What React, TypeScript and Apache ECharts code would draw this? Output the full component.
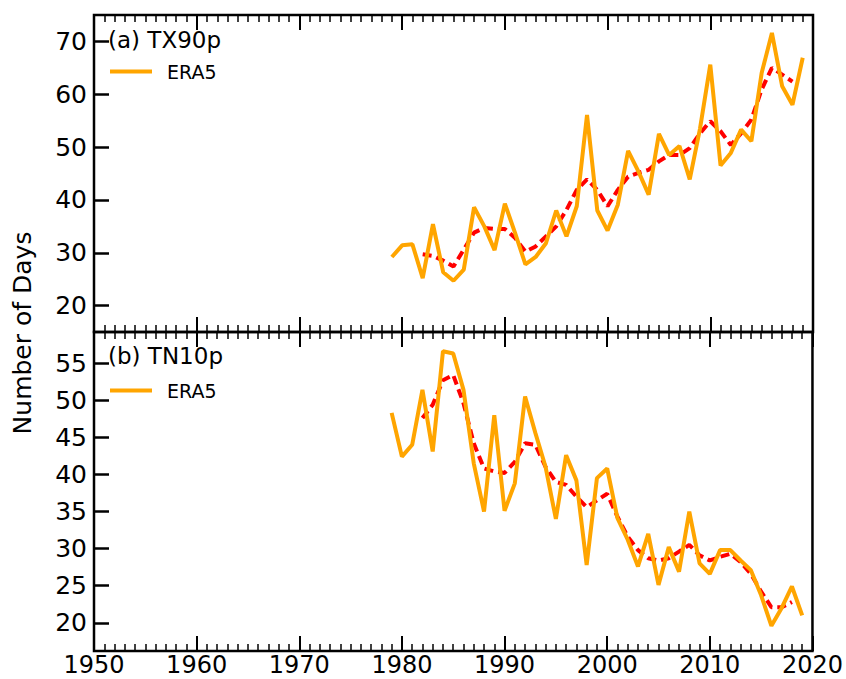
import React, { useEffect, useRef } from "react";
import * as echarts from "echarts";

const years = Array.from({ length: 41 }, (_, i) => 1979 + i);
const meanYears = Array.from({ length: 37 }, (_, i) => 1982 + i);

const tx90p = [
  29.2, 31.4, 31.6, 25.2, 35.4, 26.3, 24.7, 26.8, 38.6, 35.0,
  30.5, 39.3, 33.7, 27.8, 29.2, 31.8, 38.0, 33.1, 38.8, 56.1,
  38.0, 34.2, 39.1, 49.3, 45.4, 41.0, 52.5, 48.5, 50.2, 43.9,
  53.5, 65.6, 46.5, 48.9, 53.3, 51.1, 64.0, 71.6, 61.5, 58.0,
  66.9,
];
const tx90pMean = [
  29.7, 29.4, 28.5, 27.4, 30.6, 33.8, 34.7, 34.5, 34.5, 32.8,
  30.2, 31.2, 33.1, 35.0, 38.1, 41.9, 43.9, 41.9, 38.8, 41.9,
  44.4, 45.1, 45.7, 47.3, 48.5, 48.5, 49.8, 52.6, 54.9, 53.0,
  50.4, 52.6, 55.2, 60.9, 65.0, 63.7, 62.4,
];
const tn10p = [
  48.3, 42.4, 44.0, 51.4, 43.1, 56.6, 56.3, 51.4, 41.5, 35.0,
  48.0, 35.1, 38.8, 50.5, 45.6, 41.0, 34.0, 42.6, 39.2, 27.8,
  39.5, 40.8, 34.1, 31.2, 27.6, 32.0, 25.1, 30.2, 26.9, 35.0,
  28.0, 26.6, 29.8, 29.8, 28.4, 27.1, 23.7, 19.6, 22.0, 24.9,
  21.0,
];
const tn10pMean = [
  47.6, 49.4, 52.7, 53.4, 49.6, 44.2, 40.8, 40.4, 40.2, 41.7,
  44.2, 44.0, 41.0, 39.0, 38.6, 37.0, 35.6, 36.5, 37.4, 34.3,
  31.6, 29.8, 28.7, 28.4, 28.7, 29.6, 30.5, 29.1, 28.4, 28.9,
  29.3, 28.2, 26.6, 24.2, 22.1, 22.1, 22.8,
];
const xTicks = [1950, 1960, 1970, 1980, 1990, 2000, 2010, 2020];
const topYTicks = [20, 30, 40, 50, 60, 70];
const bottomYTicks = [20, 25, 30, 35, 40, 45, 50, 55];

const FONT = "DejaVu Sans";
const ORANGE = "#ffa500";
const RED = "#ff0000";
const TICK_FONT = 25;

function pairs(xs: number[], ys: number[]) {
  return xs.map((x, i) => [x, ys[i]]);
}

function xAxisDef(gridIndex: number, position: "top" | "bottom", showLabel: boolean) {
  return {
    type: "value",
    gridIndex,
    position,
    min: 1950,
    max: 2020,
    interval: 10,
    axisLine: { show: false },
    splitLine: { show: false },
    axisTick: { show: true, inside: true, length: 15, lineStyle: { color: "#000", width: 2 } },
    minorTick: { show: true, splitNumber: 10, length: 7, lineStyle: { color: "#000", width: 1.5 } },
    axisLabel: {
      show: showLabel,
      color: "#000",
      fontFamily: FONT,
      fontSize: 24,
      lineHeight: 24,
      margin: 2,
      customValues: xTicks,
      formatter: (v: number) => String(v),
    },
  };
}

function yAxisDef(gridIndex: number, min: number, max: number, ticks: number[]) {
  return {
    type: "value",
    gridIndex,
    min,
    max,
    axisLine: { show: false },
    splitLine: { show: false },
    axisTick: { show: true, inside: true, length: 15, customValues: ticks, lineStyle: { color: "#000", width: 2.5 } },
    axisLabel: {
      show: true,
      color: "#000",
      fontFamily: FONT,
      fontSize: TICK_FONT,
      margin: 7,
      customValues: ticks,
    },
  };
}

export default function App() {
  const ref = useRef<HTMLDivElement>(null);
  useEffect(() => {
    if (!ref.current) return;
    const chart = echarts.init(ref.current, null, { renderer: "svg" });
    chart.setOption({
      animation: false,
      backgroundColor: "#fff",
      grid: [
        { left: 94, right: 33, top: 15, height: 317, show: true, borderColor: "#000", borderWidth: 2.5, backgroundColor: "transparent" },
        { left: 94, right: 33, top: 332, height: 319, show: true, borderColor: "#000", borderWidth: 2.5, backgroundColor: "transparent" },
      ],
      title: [
        { text: "(a) TX90p", left: 108, top: 28, padding: 0, textStyle: { fontFamily: FONT, fontSize: 23, fontWeight: "normal", color: "#000" } },
        { text: "(b) TN10p", left: 108, top: 344, padding: 0, textStyle: { fontFamily: FONT, fontSize: 23, fontWeight: "normal", color: "#000" } },
      ],
      legend: [
        {
          data: [{ name: "ERA5" }],
          left: 110,
          top: 62,
          padding: 0,
          icon: "rect",
          itemWidth: 42,
          itemHeight: 4,
          textStyle: { fontFamily: FONT, fontSize: 19, color: "#000", padding: [0, 0, 0, 10] },
          selectedMode: false,
        },
        {
          data: [{ name: "ERA5" }],
          left: 110,
          top: 381,
          padding: 0,
          icon: "rect",
          itemWidth: 42,
          itemHeight: 4,
          textStyle: { fontFamily: FONT, fontSize: 19, color: "#000", padding: [0, 0, 0, 10] },
          selectedMode: false,
        },
      ],
      xAxis: [
        xAxisDef(0, "bottom", false),
        xAxisDef(0, "top", false),
        xAxisDef(1, "bottom", true),
        xAxisDef(1, "top", false),
      ],
      yAxis: [
        yAxisDef(0, 15, 75, topYTicks),
        yAxisDef(1, 16.2, 59.2, bottomYTicks),
      ],
      graphic: [
        {
          type: "text",
          x: 22,
          y: 333,
          rotation: Math.PI / 2,
          style: {
            text: "Number of Days",
            align: "center",
            verticalAlign: "middle",
            fontFamily: FONT,
            fontSize: 25,
            fill: "#000",
          },
        },
      ],
      series: [
        {
          name: "Running mean (a)",
          type: "line",
          xAxisIndex: 0,
          yAxisIndex: 0,
          data: pairs(meanYears, tx90pMean),
          showSymbol: false,
          lineStyle: { color: RED, width: 4, type: [9, 5] },
          itemStyle: { color: RED },
        },
        {
          name: "ERA5",
          type: "line",
          xAxisIndex: 0,
          yAxisIndex: 0,
          data: pairs(years, tx90p),
          showSymbol: false,
          lineStyle: { color: ORANGE, width: 4 },
          itemStyle: { color: ORANGE },
        },
        {
          name: "Running mean (b)",
          type: "line",
          xAxisIndex: 2,
          yAxisIndex: 1,
          data: pairs(meanYears, tn10pMean),
          showSymbol: false,
          lineStyle: { color: RED, width: 4, type: [9, 5] },
          itemStyle: { color: RED },
        },
        {
          name: "ERA5",
          type: "line",
          xAxisIndex: 2,
          yAxisIndex: 1,
          data: pairs(years, tn10p),
          showSymbol: false,
          lineStyle: { color: ORANGE, width: 4 },
          itemStyle: { color: ORANGE },
        },
      ],
    });
    return () => chart.dispose();
  }, []);
  return <div ref={ref} style={{ width: 846, height: 679, position: "absolute", left: 0, top: 0 }} />;
}
